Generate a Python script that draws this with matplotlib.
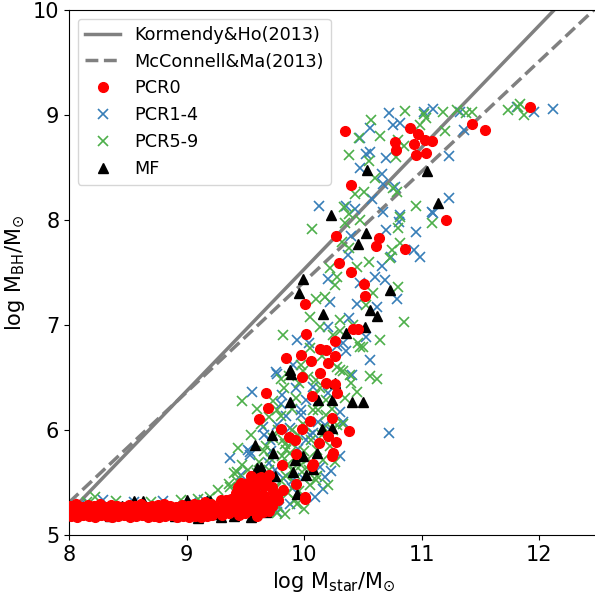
import numpy as np
import matplotlib
matplotlib.use('Agg')
import matplotlib.pyplot as plt

# scaling relations: log MBH = norm + slope*(log Mstar - 11)
line_x = [8.0, 12.5]
kh_norm, kh_slope = 8.69, 1.16
mm_norm, mm_slope = 8.46, 1.05

# PCR0 (red) -- low mass plateau + scattered rise
pcr0 = np.array([
    # plateau, top row
    (8.01, 5.28), (8.06, 5.30), (8.11, 5.27), (8.16, 5.29), (8.21, 5.28), (8.26, 5.30), (8.31, 5.27),
    (8.36, 5.29), (8.41, 5.28), (8.46, 5.27), (8.51, 5.29), (8.56, 5.28), (8.61, 5.30), (8.66, 5.27),
    (8.71, 5.28), (8.76, 5.29), (8.81, 5.30), (8.86, 5.28), (8.91, 5.27), (8.96, 5.29), (9.01, 5.28),
    (9.06, 5.30), (9.11, 5.29), (9.16, 5.31), (9.21, 5.30),
    # plateau, bottom row
    (8.02, 5.18), (8.07, 5.17), (8.12, 5.19), (8.17, 5.18), (8.22, 5.17), (8.27, 5.19), (8.32, 5.18),
    (8.37, 5.17), (8.42, 5.18), (8.47, 5.19), (8.52, 5.17), (8.57, 5.18), (8.62, 5.19), (8.67, 5.17),
    (8.72, 5.18), (8.77, 5.17), (8.82, 5.18), (8.87, 5.19), (8.92, 5.17), (8.97, 5.18), (9.02, 5.17),
    (9.07, 5.18), (9.12, 5.17), (9.17, 5.18), (9.22, 5.19),
    # plateau, middle
    (8.04, 5.23), (8.14, 5.24), (8.24, 5.22), (8.34, 5.24), (8.44, 5.23), (8.54, 5.22), (8.64, 5.24),
    (8.74, 5.23), (8.84, 5.22), (8.94, 5.24), (9.04, 5.23), (9.14, 5.22), (9.24, 5.25),
    (8.00, 5.21), (8.09, 5.21), (8.19, 5.20), (8.29, 5.21), (8.39, 5.21), (8.49, 5.20), (8.59, 5.21),
    (8.69, 5.20), (8.79, 5.21), (8.89, 5.21), (8.99, 5.20), (9.09, 5.21), (9.19, 5.21),
    (8.03, 5.26), (8.13, 5.26), (8.23, 5.25), (8.33, 5.26), (8.43, 5.26), (8.53, 5.25), (8.63, 5.26),
    (8.73, 5.26), (8.83, 5.25), (8.93, 5.26), (9.03, 5.26), (9.13, 5.25), (9.23, 5.27),
    # knee
    (9.70, 5.57), (9.63, 5.55), (9.55, 5.56), (9.61, 5.49), (9.55, 5.46), (9.44, 5.46), (9.73, 5.46),
    (9.82, 5.43), (9.77, 5.37), (9.70, 5.23), (9.75, 5.33), (9.65, 5.38), (9.54, 5.33), (9.48, 5.36),
    (9.45, 5.30), (9.40, 5.24), (9.33, 5.30), (9.29, 5.33), (9.26, 5.24), (9.57, 5.46), (9.47, 5.44),
    (9.44, 5.36), (9.51, 5.35), (9.57, 5.29), (9.64, 5.38), (9.68, 5.33), (9.78, 5.33), (9.70, 5.24),
    (9.54, 5.24), (9.40, 5.27), (9.34, 5.33), (9.23, 5.27), (9.17, 5.24), (9.62, 5.54), (9.72, 5.46),
    (9.30, 5.19), (9.45, 5.19), (9.60, 5.18), (9.50, 5.21), (9.65, 5.22), (9.36, 5.21), (9.42, 5.40),
    (9.58, 5.41), (9.66, 5.47), (9.52, 5.50), (9.28, 5.22), (9.35, 5.26), (9.38, 5.34), (9.42, 5.28),
    (9.48, 5.26), (9.52, 5.30), (9.50, 5.42), (9.60, 5.33), (9.62, 5.27), (9.66, 5.30), (9.73, 5.28),
    (9.74, 5.40), (9.60, 5.50), (9.68, 5.52), (9.46, 5.50), (9.40, 5.33), (9.32, 5.25), (9.56, 5.38),
    # rise
    (9.93, 5.49), (10.01, 5.36), (10.01, 5.34), (9.81, 5.67), (10.08, 5.68), (10.07, 5.66),
    (10.25, 5.78), (10.24, 5.75), (9.93, 5.77), (10.20, 5.94), (10.27, 5.89), (10.13, 5.88),
    (9.87, 5.93), (9.92, 5.90), (9.80, 6.01), (9.98, 6.01), (10.38, 5.99), (10.24, 6.11), (10.05, 6.09),
    (9.62, 6.10), (9.69, 6.21), (9.68, 6.35), (10.07, 6.32), (10.28, 6.35), (10.19, 6.45), (10.26, 6.44),
    (9.98, 6.50), (10.14, 6.54), (10.20, 6.64), (10.26, 6.70), (10.19, 6.76), (10.14, 6.77), (10.06, 6.66),
    (9.97, 6.71), (9.85, 6.69), (10.26, 6.85), (10.42, 6.96), (10.46, 6.96), (10.02, 6.91), (10.01, 7.20),
    (10.52, 7.28), (10.51, 7.39), (10.40, 7.50), (10.30, 7.59), (10.61, 7.75), (10.64, 7.83), (10.27, 7.85),
    (10.86, 7.72), (11.21, 8.00), (10.40, 8.33), (10.35, 8.85), (10.95, 8.62), (11.04, 8.64), (11.09, 8.75),
    (11.03, 8.76), (10.94, 8.72), (10.78, 8.67), (10.77, 8.74), (10.97, 8.82), (10.90, 8.88), (11.54, 8.86),
    (11.43, 8.91), (11.92, 9.08),
])

# PCR1-4 (blue crosses)
pcr1_4 = np.array([
    (8.10, 5.30), (8.29, 5.33), (8.55, 5.31), (8.80, 5.32), (9.05, 5.31), (9.15, 5.33),
    (10.72, 9.02), (11.02, 9.03), (11.10, 9.06), (11.33, 9.03), (11.81, 9.08), (11.96, 9.03), (12.12, 9.06),
    (10.76, 8.90), (10.82, 8.92), (11.36, 8.86), (10.70, 8.59), (11.23, 8.61), (10.66, 8.44), (10.67, 8.34),
    (10.77, 8.31), (11.23, 8.21), (10.67, 8.08), (10.82, 8.05), (10.81, 7.98), (11.10, 8.07), (10.70, 7.90),
    (10.95, 7.89), (10.94, 7.71), (10.99, 7.65), (10.66, 7.56), (10.69, 7.43), (10.56, 8.88), (10.48, 8.78),
    (10.56, 8.65), (10.53, 8.63), (10.48, 8.49), (10.13, 8.13), (10.36, 8.13), (10.43, 8.10), (11.09, 8.08),
    (10.37, 7.67), (10.74, 7.65), (10.20, 7.44), (10.48, 7.40), (10.60, 7.46), (10.79, 7.25), (10.62, 7.17),
    (10.22, 7.22), (10.38, 7.07), (10.20, 6.98), (9.94, 6.86), (10.04, 6.83), (10.33, 6.83), (10.53, 6.89),
    (10.36, 6.75), (9.76, 6.55), (9.91, 6.62), (10.56, 6.67), (9.77, 6.53), (9.81, 6.33), (9.56, 6.36),
    (10.41, 6.52), (10.31, 6.17), (10.33, 6.08), (10.72, 5.97), (9.37, 5.73), (9.54, 5.76), (10.31, 5.75),
    (10.23, 5.61), (10.16, 5.44), (9.99, 5.54), (9.79, 5.27), (9.88, 6.02), (9.97, 6.19), (10.08, 6.41),
    (10.02, 6.29), (9.85, 6.13), (10.02, 5.90), (9.71, 5.90), (9.65, 6.03), (10.14, 5.65), (9.91, 5.52),
    (9.70, 5.69), (10.09, 5.36), (9.97, 6.14), (9.77, 6.05), (10.08, 5.97), (9.54, 5.79), (9.46, 5.57),
    (9.75, 5.62), (9.82, 5.54), (9.88, 5.30), (9.77, 5.22), (9.52, 5.81), (10.18, 6.05), (9.93, 6.40),
    (9.60, 5.40), (9.72, 5.80), (9.80, 6.25), (9.95, 5.82), (10.05, 5.95), (10.12, 6.08), (10.20, 6.35),
    (10.28, 6.80), (10.45, 7.20), (10.40, 7.85), (10.58, 8.20), (9.66, 5.95), (9.90, 5.45), (10.18, 5.55),
    (9.45, 5.35),
])

# PCR5-9 (green crosses)
pcr5_9 = np.array([
    (8.15, 5.31), (8.22, 5.36), (8.40, 5.32), (8.70, 5.31), (8.95, 5.33), (9.10, 5.34), (9.20, 5.36),
    (11.74, 9.05), (11.82, 9.08), (11.84, 9.10), (11.87, 9.00), (10.86, 9.04), (11.02, 9.01), (11.04, 8.97),
    (11.18, 9.03), (11.30, 9.05), (11.38, 9.02), (11.43, 9.03), (11.20, 8.85), (10.99, 8.90), (10.80, 8.76),
    (10.85, 8.70), (10.78, 8.60), (10.79, 8.27), (10.95, 8.13), (10.82, 8.03), (11.09, 7.97), (10.80, 7.92),
    (10.75, 7.71), (10.73, 7.64), (10.57, 8.95), (10.47, 8.78), (10.38, 8.62), (10.55, 8.56), (10.43, 8.25),
    (10.51, 8.27), (10.76, 8.30), (10.07, 7.91), (10.34, 8.12), (10.38, 8.06), (10.35, 7.97), (10.32, 7.79),
    (10.38, 7.73), (10.82, 7.78), (10.22, 7.54), (10.28, 7.46), (10.26, 7.38), (10.18, 7.27), (10.59, 7.30),
    (10.53, 7.19), (10.80, 7.36), (10.85, 7.03), (10.05, 7.08), (10.14, 6.98), (10.31, 7.05), (10.31, 6.94),
    (9.82, 6.90), (10.46, 6.83), (10.50, 6.79), (10.65, 6.86), (9.97, 6.62), (9.99, 6.56), (10.31, 6.57),
    (10.39, 6.52), (10.56, 6.51), (9.47, 6.28), (9.44, 5.83), (9.80, 6.49), (9.87, 6.51), (10.62, 6.49),
    (10.45, 6.36), (10.48, 6.79), (10.33, 6.56), (10.19, 6.29), (10.08, 6.19), (9.63, 6.06), (9.80, 6.13),
    (9.84, 5.87), (9.71, 5.73), (9.85, 5.81), (9.97, 5.67), (10.11, 5.81), (10.16, 5.71), (10.11, 5.56),
    (9.92, 5.33), (9.78, 5.27), (9.27, 5.43), (9.43, 5.60), (9.60, 5.59), (10.02, 6.03), (10.25, 6.00),
    (10.33, 6.06), (10.09, 6.33), (9.88, 5.78), (9.81, 5.75), (9.82, 5.90), (9.99, 6.06), (10.12, 6.19),
    (10.19, 6.14), (9.77, 6.19), (10.28, 6.05), (9.85, 5.56), (9.80, 5.51), (9.94, 5.30), (9.77, 5.21),
    (9.43, 5.51), (9.37, 5.46), (9.47, 5.67), (9.36, 5.49), (9.40, 5.59), (9.90, 5.62), (9.93, 5.72),
    (9.89, 5.88), (9.95, 5.95), (9.86, 5.68), (10.00, 5.80), (9.90, 6.00), (10.04, 5.62), (10.05, 5.48),
    (9.96, 5.42), (9.52, 5.62), (9.66, 5.80), (10.15, 5.95),
    (9.62, 5.70), (9.68, 5.85), (9.74, 5.92), (9.78, 6.00), (9.70, 6.12), (9.74, 6.28), (9.83, 6.40),
    (9.90, 6.20), (9.93, 6.30), (9.96, 6.45), (10.03, 6.50), (10.10, 6.48), (10.14, 6.40), (10.22, 6.42),
    (10.24, 6.20), (10.17, 6.02), (10.06, 5.90), (10.03, 5.72), (9.98, 5.60), (10.10, 5.52), (10.20, 5.48),
    (10.22, 5.85), (10.26, 5.70), (9.58, 5.50), (9.50, 5.40), (9.64, 5.45), (9.70, 5.62), (9.76, 5.45),
    (9.86, 5.40), (9.92, 5.50), (10.00, 5.25), (9.84, 5.20), (9.55, 5.95), (9.60, 6.20), (10.35, 6.30),
    (10.40, 6.45), (10.28, 6.60), (10.15, 6.70), (10.05, 6.78), (10.25, 6.90), (10.42, 7.00), (10.10, 7.25),
    (10.45, 7.55), (10.55, 7.60), (10.48, 8.00), (10.60, 8.40), (10.65, 8.80),
])

# MF (black triangles)
mf = np.array([
    (8.05, 5.20), (8.20, 5.25), (8.35, 5.18), (8.45, 5.28), (8.55, 5.32), (8.63, 5.32), (8.70, 5.22),
    (8.80, 5.30), (8.90, 5.18), (9.05, 5.25), (9.10, 5.16), (9.17, 5.32), (9.25, 5.20), (9.40, 5.18),
    (9.55, 5.17), (9.29, 5.17), (9.20, 5.32), (9.00, 5.33), (9.68, 5.22),
    (11.05, 8.47), (11.14, 8.16), (10.54, 8.48), (10.23, 8.05), (10.53, 7.88), (10.46, 7.77), (9.99, 7.44),
    (9.96, 7.30), (10.16, 7.10), (10.73, 7.33), (10.56, 7.14), (10.62, 7.09), (10.52, 6.98), (10.36, 6.92),
    (9.88, 6.57), (9.89, 6.53), (9.88, 6.27), (10.12, 6.29), (10.24, 6.29), (10.41, 6.27), (10.50, 6.27),
    (10.26, 6.45), (10.15, 6.01), (10.24, 6.02), (9.73, 5.95), (9.58, 5.86), (9.74, 5.78), (9.99, 5.75),
    (10.11, 5.78), (9.92, 5.71), (9.91, 5.60), (10.02, 5.57), (10.08, 5.63), (9.75, 5.56), (9.60, 5.64),
    (9.63, 5.65), (9.94, 5.39),
])

fig = plt.figure(figsize=(5.95, 5.94), dpi=100)
ax = fig.add_axes([0.116, 0.0993, 0.8887, 0.884])

lx = np.array(line_x)
ax.plot(lx, kh_norm + kh_slope * (lx - 11), '-', color='gray', lw=2.5, label='Kormendy&Ho(2013)', zorder=1)
ax.plot(lx, mm_norm + mm_slope * (lx - 11), '--', color='gray', lw=2.5, label='McConnell&Ma(2013)', zorder=1)

ax.plot(pcr0[:, 0], pcr0[:, 1], 'o', color='red', ms=7, ls='none', label='PCR0', zorder=5)
ax.plot(pcr1_4[:, 0], pcr1_4[:, 1], 'x', color='#377eb8', ms=7, mew=1.2, ls='none', label='PCR1-4', zorder=2)
ax.plot(pcr5_9[:, 0], pcr5_9[:, 1], 'x', color='#4daf4a', ms=7, mew=1.2, ls='none', label='PCR5-9', zorder=3)
ax.plot(mf[:, 0], mf[:, 1], '^', color='black', ms=7, ls='none', label='MF', zorder=4)

ax.set_xlim(8, 12.5)
ax.set_ylim(5, 10)
ax.set_xticks([8, 9, 10, 11, 12])
ax.set_yticks([5, 6, 7, 8, 9, 10])
ax.tick_params(labelsize=15)
ax.set_xlabel(r'log M$_{\rm star}$/M$_{\odot}$', fontsize=15)
ax.set_ylabel(r'log M$_{\rm BH}$/M$_{\odot}$', fontsize=15)
ax.legend(loc='upper left', fontsize=12.7)

fig.savefig('out.png', dpi=100)
